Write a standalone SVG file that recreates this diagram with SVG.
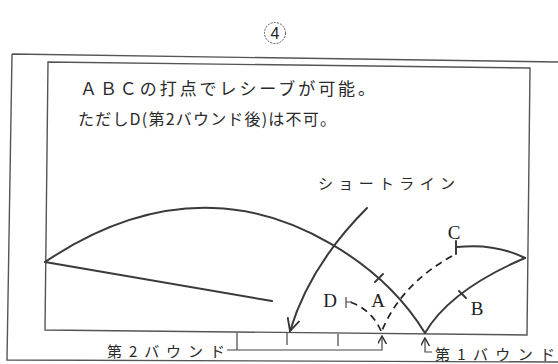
<svg xmlns="http://www.w3.org/2000/svg" width="558" height="364" viewBox="0 0 558 364">
<defs>
<style>
.frame{fill:none;stroke:#555;stroke-width:1.4}
.curve{fill:none;stroke:#3a3a3a;stroke-width:2;stroke-linecap:round}
.dash{fill:none;stroke:#222;stroke-width:1.7;stroke-dasharray:7,5}
.thin{fill:none;stroke:#444;stroke-width:1.2}
.jp{font-family:"Noto Sans CJK JP","Liberation Serif",sans-serif;fill:#2a2a2a}
.lbl{font-family:"Liberation Serif",serif;fill:#222;font-size:19px;text-anchor:middle}
</style>
<marker id="ah" viewBox="0 0 10 10" refX="9" refY="5" markerWidth="9" markerHeight="9" markerUnits="userSpaceOnUse" orient="auto">
<path d="M0,0 L9,5 L0,10" fill="none" stroke="#333" stroke-width="1.6"/>
</marker>
<marker id="ah2" viewBox="0 0 10 10" refX="9" refY="5" markerWidth="14" markerHeight="14" markerUnits="userSpaceOnUse" orient="auto">
<path d="M0,0.5 L9,5 L0,9.5" fill="none" stroke="#333" stroke-width="1.3"/>
</marker>
</defs>
<rect width="558" height="364" fill="#fff"/>
<g id="title">
<circle cx="275" cy="33" r="10.5" fill="none" stroke="#555" stroke-width="1" stroke-dasharray="2,1.2"/>
<text x="275" y="39" font-family="Liberation Sans,sans-serif" font-size="16" text-anchor="middle" fill="#222">4</text>
</g>
<g id="frames">
<path class="frame" d="M12,54 L558,62 M12,54 L7,360 L558,362"/>
<path class="frame" d="M48,62 L530,68 L527,335 L45,330 Z"/>
</g>
<g id="caption">
<text class="jp" x="80" y="95" font-size="17" textLength="295" lengthAdjust="spacing">ＡＢＣの打点でレシーブが可能。</text>
<text class="jp" x="78" y="125" font-size="16" textLength="258" lengthAdjust="spacing">ただしD(第2バウンド後)は不可。</text>
</g>
<g id="connectors">
<path id="lob" class="curve" d="M45,262 Q130,205 213,208 C290,210 380,260 425,333"/>
<path id="serve" class="curve" d="M45,262 L272,301"/>
<path id="bounceB" class="curve" d="M425,333 Q450,290 525,258"/>
<path id="toC" class="curve" d="M525,258 Q495,243 457,247"/>
<line class="curve" x1="456" y1="241" x2="456" y2="254"/>
<line class="curve" x1="375" y1="282" x2="383" y2="274"/>
<line class="curve" x1="459" y1="291" x2="466" y2="298"/>
<path id="dashC" class="dash" d="M452,256 Q400,285 381,333"/>
<path id="dashD" class="dash" d="M381,331 Q372,310 350,302"/>
<path class="thin" d="M346,297 L346,308 M346,302 L352,302"/>
<path id="shortArrow" class="curve" d="M367,208 Q310,265 290,331" marker-end="url(#ah2)"/>
<path class="thin" d="M287,333 L287,345 M338,334 L338,346 M237,333 L237,350 M227,350 L382,350 L382,336" marker-end="url(#ah)"/>
<path class="thin" d="M432,352 L425,352 L425,338" marker-end="url(#ah)"/>
</g>
<g id="labels">
<text class="lbl" x="454" y="239">C</text>
<text class="lbl" x="330" y="307">D</text>
<text class="lbl" x="378" y="307">A</text>
<text class="lbl" x="477" y="315">B</text>
<text class="jp" x="318" y="189" font-size="15" textLength="137" lengthAdjust="spacing">ショートライン</text>
<text class="jp" x="107" y="357" font-size="15" textLength="118" lengthAdjust="spacing">第2バウンド</text>
<text class="jp" x="435" y="360" font-size="15" textLength="120" lengthAdjust="spacing">第1バウンド</text>
</g>
</svg>
